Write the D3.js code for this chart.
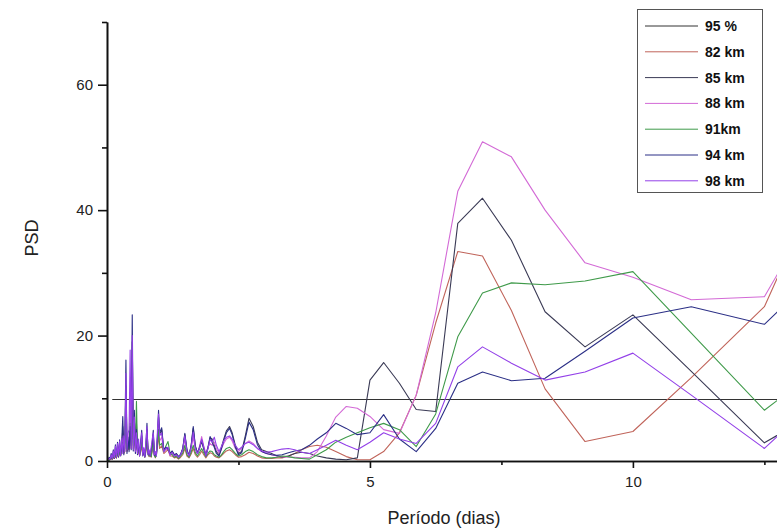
<!DOCTYPE html>
<html>
<head>
<meta charset="utf-8">
<script src="https://cdn.jsdelivr.net/npm/d3@7"></script>
<style>
  body { margin: 0; background: #fff; }
  svg { display: block; }
  text { font-family: "Liberation Sans", Arial, sans-serif; }
</style>
</head>
<body>
<svg id="chart" width="777" height="529"></svg>
<script>
// Periods (days): fine grid below 2 days, then 100/k for k = 50 … 7
const periodsShort = [
  0.02,0.04,0.06,0.08,0.10,0.12,0.14,0.16,0.18,0.20,0.22,0.24,0.26,0.28,0.30,0.32,0.34,0.36,0.38,0.40,
  0.42,0.44,0.46,0.48,0.50,0.52,0.54,0.56,0.58,0.60,0.62,0.64,0.66,0.68,0.70,0.72,0.74,0.76,0.78,0.80,
  0.82,0.84,0.86,0.88,0.90,0.92,0.94,0.96,0.98,
  1.00,1.04,1.08,1.12,1.16,1.20,1.24,1.28,1.32,1.36,1.40,1.44,1.48,1.52,1.56,1.60,1.64,1.68,1.72,1.76,
  1.80,1.84,1.88,1.92,1.96
];
const periodsLong = [
  2.00,2.04,2.08,2.13,2.17,2.22,2.27,2.33,2.38,2.44,2.50,2.56,2.63,2.70,2.78,2.86,2.94,3.03,3.13,3.23,
  3.33,3.45,3.57,3.70,3.85,4.00,4.17,4.35,4.55,4.76,5.00,5.26,5.56,5.88,6.25,6.67,7.14,7.69,8.33,9.09,
  10.00,11.11,12.50,14.29
];

// PSD per altitude (short-period part, then long-period part)
const psd82 = [
  0.1,0.1,0.2,0.3,0.3,0.5,0.4,0.7,0.5,1.0,0.7,1.2,0.9,1.5,2.5,1.2,1.6,6.0,1.5,2.0,
  1.8,5.0,2.0,9.0,2.0,3.8,1.6,3.0,1.2,1.5,0.8,1.5,2.5,0.9,1.2,0.6,1.5,3.0,1.2,0.7,
  1.0,0.6,1.6,2.5,0.9,0.5,1.0,2.5,4.0,
  2.0,2.4,1.2,1.5,1.8,0.8,0.8,0.5,0.6,0.3,0.6,1.0,2.0,0.8,0.5,1.1,2.0,1.0,0.6,1.0,
  1.6,1.0,0.5,1.0,1.3,
  1.2,0.8,0.6,0.5,0.8,1.2,1.6,1.8,1.5,1.0,0.6,0.7,1.0,1.4,1.2,0.8,0.5,0.4,0.4,0.5,
  0.5,0.8,1.2,1.8,2.3,2.5,2.2,1.5,0.7,0.2,0.2,1.5,4.5,10.5,22.0,33.4,32.7,24.0,11.5,3.1,
  4.7,13.3,24.6,58
];
const psd85 = [
  0.2,0.2,0.6,0.5,1.0,0.8,1.2,0.9,1.5,1.0,2.0,1.3,2.2,1.6,5.5,2.2,3.0,12.0,2.5,3.0,
  2.2,4.5,3.0,19.0,3.5,6.5,2.5,6.0,1.8,2.2,1.2,2.5,4.0,1.4,1.8,0.9,2.0,5.0,2.0,1.0,
  1.5,0.8,2.4,4.2,1.5,0.7,1.3,3.6,7.0,
  4.2,5.0,1.6,2.0,1.8,1.1,1.5,0.9,1.1,0.6,1.0,1.9,4.2,1.7,0.8,2.4,5.2,2.3,1.2,2.0,
  3.1,1.9,0.8,2.0,3.7,
  3.5,2.5,1.5,1.0,2.0,3.5,4.8,5.5,4.5,2.5,1.2,1.5,4.0,6.8,5.5,3.0,1.8,1.5,1.2,0.8,
  0.6,0.8,1.2,1.4,1.2,0.8,0.5,0.3,0.2,0.5,12.9,15.7,12.4,8.2,7.9,37.9,41.9,35.2,23.8,18.2,
  23.3,14.3,2.9,11.6
];
const psd88 = [
  0.1,0.2,0.4,0.6,0.5,0.9,0.7,1.2,0.8,1.6,1.0,1.8,1.2,2.4,4.0,2.0,2.2,9.0,2.0,2.8,
  3.5,10.0,3.0,15.0,3.0,5.0,2.2,3.5,1.6,2.0,1.0,2.0,3.5,1.2,1.6,0.8,2.2,4.0,1.6,1.0,
  1.6,0.9,2.5,3.8,1.2,0.8,1.5,3.8,6.0,
  3.2,3.8,1.4,1.8,2.0,0.9,1.2,0.7,0.9,0.5,0.9,1.6,3.5,1.4,0.8,2.0,3.8,1.8,1.2,2.4,
  3.9,2.4,1.2,2.2,2.8,
  2.5,3.0,2.0,1.2,1.8,2.8,3.5,3.8,3.2,2.0,1.5,2.0,2.8,3.2,2.8,2.0,1.5,1.2,1.0,0.8,
  0.7,0.6,0.6,0.5,0.5,1.5,4.0,7.0,8.7,8.4,7.1,5.0,4.4,10.5,23.6,43.0,50.9,48.5,40.0,31.6,
  29.3,25.7,26.2,52
];
const psd91 = [
  0.1,0.1,0.3,0.4,0.4,0.6,0.5,0.9,0.6,1.2,0.8,1.4,1.0,1.8,3.0,1.5,2.0,7.0,1.8,2.5,
  2.0,6.0,2.5,12.0,2.5,4.5,2.0,9.5,1.5,1.8,0.9,1.8,3.0,1.0,1.4,0.7,1.8,3.5,1.4,0.8,
  1.2,0.7,2.0,3.0,1.0,0.6,1.2,3.0,5.0,
  2.5,2.8,1.5,2.4,3.1,1.2,1.0,0.6,0.8,0.4,0.8,1.2,2.5,1.0,0.6,1.4,2.5,1.3,0.8,1.4,
  2.0,1.3,0.7,1.2,1.6,
  1.5,1.0,0.8,0.6,0.9,1.5,2.0,2.2,1.8,1.2,0.8,1.0,1.5,1.8,1.5,1.0,0.7,0.5,0.5,0.6,
  0.8,0.7,0.5,0.4,0.3,1.0,1.8,3.0,3.8,4.5,5.3,6.0,5.0,2.3,7.5,19.8,26.8,28.4,28.1,28.7,
  30.2,20.4,8.1,19.5
];
const psd94 = [
  0.1,0.6,0.3,1.2,0.3,1.8,0.4,2.6,0.5,3.0,0.6,3.4,0.8,3.0,7.1,1.0,3.6,16.1,1.2,3.8,
  1.5,5.5,1.8,23.3,1.6,8.1,1.2,5.0,1.0,3.0,0.8,3.0,4.9,0.8,2.0,0.6,2.5,6.0,1.0,1.6,
  0.8,1.8,2.8,4.9,0.9,1.4,0.8,4.2,8.1,
  4.5,5.3,1.8,2.2,2.0,1.2,1.6,1.0,1.2,0.7,1.1,2.0,4.4,1.8,0.9,2.5,5.5,2.4,1.3,2.2,
  3.3,2.0,0.9,2.2,3.9,
  3.0,2.2,1.2,0.8,1.8,3.2,4.5,5.2,4.2,2.2,1.0,1.3,3.6,6.2,5.0,2.6,1.5,1.2,1.0,0.9,
  1.0,1.3,1.6,1.8,2.5,3.5,4.5,6.0,5.2,4.2,4.5,7.4,3.5,1.5,5.2,12.4,14.2,12.8,13.2,17.5,
  22.8,24.6,21.8,36
];
const psd98 = [
  0.2,0.4,0.3,1.0,0.4,1.6,0.5,2.4,0.6,2.8,0.8,3.2,0.9,3.6,1.2,4.0,1.5,14.0,1.8,4.4,
  5.0,17.7,2.0,20.0,1.8,7.0,1.5,4.5,1.2,3.5,0.8,2.6,4.5,0.9,2.2,0.7,3.0,5.5,1.0,1.8,
  0.8,2.2,3.5,4.5,1.0,1.5,0.8,5.0,7.5,
  4.0,4.5,1.5,2.0,2.2,1.0,1.4,0.8,1.0,0.6,1.0,1.8,4.0,1.5,0.8,2.2,4.6,2.0,1.2,2.0,
  3.5,2.2,0.8,2.0,3.4,
  3.0,3.8,2.5,1.5,2.2,3.2,3.8,4.0,3.5,2.5,1.8,2.2,2.8,3.0,2.6,2.0,1.6,1.4,1.5,1.7,
  1.9,2.0,1.8,1.4,1.2,1.8,2.5,3.3,2.5,1.8,3.0,4.5,3.5,2.8,6.0,15.0,18.2,15.6,12.9,14.2,
  17.2,10.5,2.0,16
];

// 95 % significance level
const level95 = 9.8;
const level95Span = [0.1, 14.29];

const legendLabels = ["95 %", "82 km", "85 km", "88 km", "91km", "94 km", "98 km"];
const xTicksMajor = [0, 5, 10];
const xTicksMinor = [2.5, 7.5, 12.5];
const yTicksMajor = [0, 20, 40, 60];
const yTicksMinor = [10, 30, 50, 70];

const periods = periodsShort.concat(periodsLong);
const series = [
  { name: "82 km", values: psd82, color: "#c0645a" },
  { name: "85 km", values: psd85, color: "#3a3a55" },
  { name: "88 km", values: psd88, color: "#d36ad6" },
  { name: "91km",  values: psd91, color: "#3f9a4a" },
  { name: "94 km", values: psd94, color: "#2b2f86" },
  { name: "98 km", values: psd98, color: "#9340e8" }
];
const levelColor = "#333";

const svg = d3.select("#chart");
const W = 777, H = 529;
const x = d3.scaleLinear().domain([0, 12.74]).range([107, 777]);
const y = d3.scaleLinear().domain([0, 70]).range([461, 22]);

svg.append("defs").append("clipPath").attr("id", "plot")
  .append("rect").attr("x", 107).attr("y", 0).attr("width", W - 107).attr("height", 462);

const plot = svg.append("g").attr("clip-path", "url(#plot)");
const line = d3.line().x(d => x(d[0])).y(d => y(d[1]));

// significance level
plot.append("path")
  .attr("d", line(level95Span.map(p => [p, level95])))
  .attr("fill", "none").attr("stroke", levelColor).attr("stroke-width", 1.1);

series.forEach(s => {
  plot.append("path")
    .attr("d", line(periods.map((p, i) => [p, s.values[i]])))
    .attr("fill", "none")
    .attr("stroke", s.color)
    .attr("stroke-width", 1.1)
    .attr("stroke-linejoin", "round");
});

// axes
function styleAxis(g) {
  g.select(".domain").attr("stroke", "#111").attr("stroke-width", 1.6);
  g.selectAll(".tick line").attr("stroke", "#111").attr("stroke-width", 1.6);
  g.selectAll(".tick text").attr("fill", "#222").style("font-size", "15px")
    .style("font-family", '"Liberation Sans", Arial, sans-serif');
}

svg.append("g").attr("transform", "translate(0,461)")
  .call(d3.axisBottom(x).tickValues(xTicksMinor).tickSize(4).tickSizeOuter(0).tickFormat(""))
  .call(styleAxis);
svg.append("g").attr("transform", "translate(0,461)")
  .call(d3.axisBottom(x).tickValues(xTicksMajor).tickSize(7).tickSizeOuter(0).tickPadding(8).tickFormat(d3.format("d")))
  .call(styleAxis);

svg.append("g").attr("transform", "translate(107,0)")
  .call(d3.axisLeft(y).tickValues(yTicksMinor).tickSize(5).tickSizeOuter(0).tickFormat(""))
  .call(styleAxis);
svg.append("g").attr("transform", "translate(107,0)")
  .call(d3.axisLeft(y).tickValues(yTicksMajor).tickSize(9).tickSizeOuter(0).tickPadding(5).tickFormat(d3.format("d")))
  .call(styleAxis);

// axis titles
svg.append("text")
  .attr("transform", "translate(38,238) rotate(-90)")
  .attr("text-anchor", "middle")
  .attr("fill", "#222").style("font-size", "18px")
  .text("PSD");
svg.append("text")
  .attr("x", 444).attr("y", 524)
  .attr("text-anchor", "middle")
  .attr("fill", "#222").style("font-size", "18px")
  .text("Período (dias)");

// legend
const legend = svg.append("g");
legend.append("rect")
  .attr("x", 637.5).attr("y", 9.5).attr("width", 125).attr("height", 183)
  .attr("fill", "#fff").attr("stroke", "#555").attr("stroke-width", 1);
const legendColors = [levelColor].concat(series.map(s => s.color));
legendLabels.forEach((lab, i) => {
  const cy = 26 + i * 25.8;
  legend.append("line")
    .attr("x1", 645).attr("x2", 698).attr("y1", cy).attr("y2", cy)
    .attr("stroke", legendColors[i]).attr("stroke-width", 1);
  legend.append("text")
    .attr("x", 705).attr("y", cy + 5)
    .attr("fill", "#111").style("font-size", "14px").style("font-weight", "bold")
    .text(lab);
});
</script>
</body>
</html>
